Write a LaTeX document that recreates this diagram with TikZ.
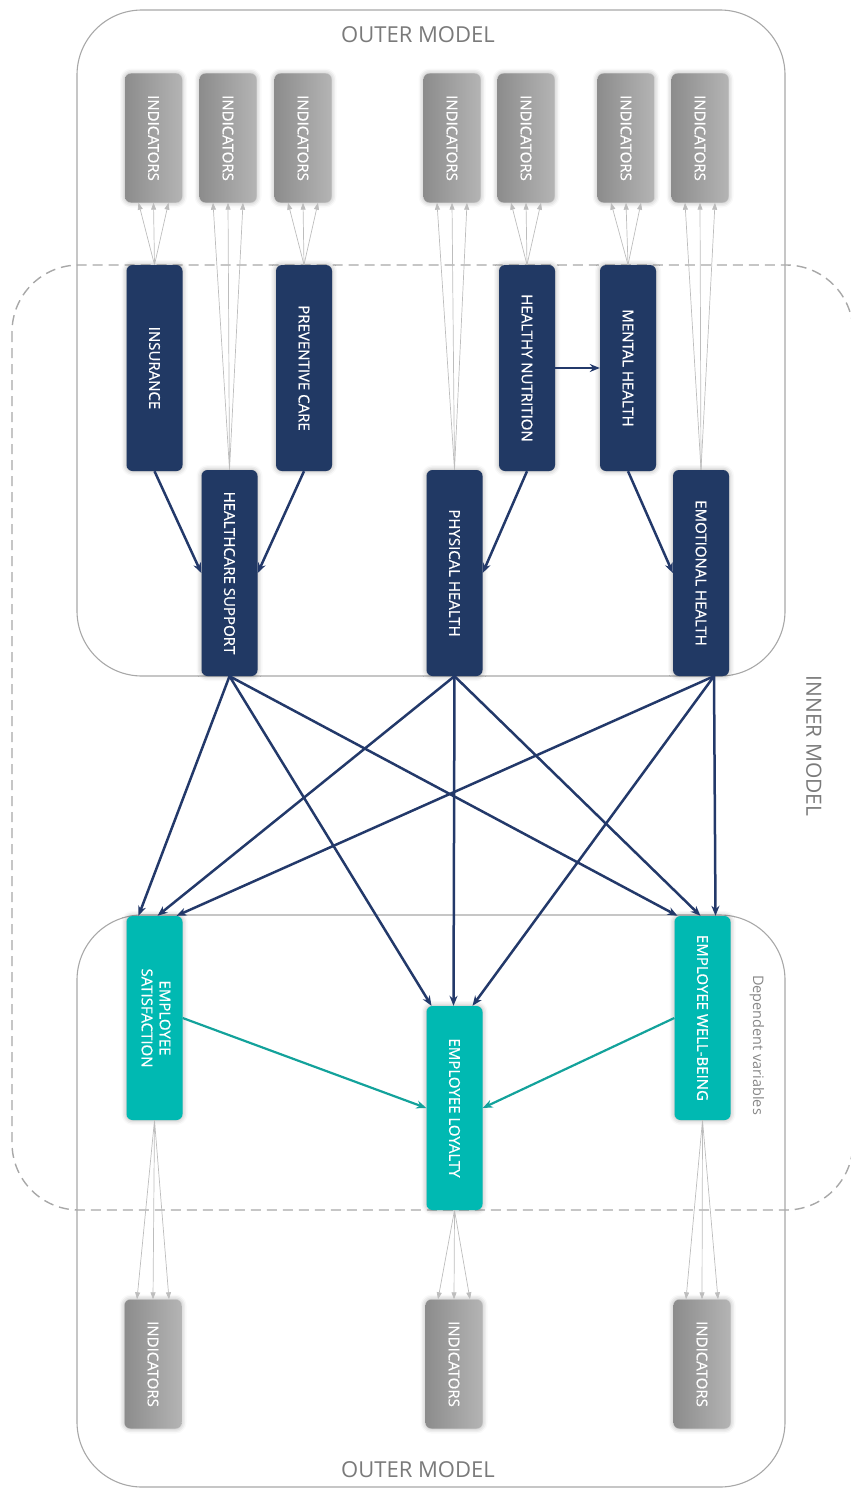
\documentclass[tikz,border=0pt]{standalone}
\usepackage{fontspec}
\setmainfont{Open Sans}
\newfontfamily\boxfont{Open Sans}[FakeBold=0.7]
\usetikzlibrary{arrows.meta,shadows.blur}
\definecolor{navy}{HTML}{213964}
\definecolor{navyline}{HTML}{23396A}
\definecolor{tealbox}{HTML}{00B9B2}
\definecolor{tealline}{HTML}{13A29B}
\definecolor{indL}{HTML}{8C8C8C}
\definecolor{indR}{HTML}{B4B4B4}
\definecolor{frame}{HTML}{A8A8A8}
\definecolor{thin}{HTML}{BDBDBD}
\definecolor{labelgray}{HTML}{7A7A7A}
\begin{document}
\begin{tikzpicture}[x=1pt,y=-1pt,
  glow/.style={blur shadow={shadow xshift=0pt,shadow yshift=0pt,shadow blur radius=5pt,shadow opacity=35}},
  latent/.style={glow,fill=navy,rounded corners=6pt,minimum width=56pt,minimum height=206pt,
    inner sep=0pt,text=white,font=\boxfont\fontsize{15}{19}\selectfont},
  outcome/.style={latent,fill=tealbox,minimum height=204pt},
  indicator/.style={glow,left color=indL,right color=indR,rounded corners=6pt,minimum width=57pt,
    minimum height=129pt,inner sep=0pt,text=white,font=\boxfont\fontsize{15}{19}\selectfont},
  outerbox/.style={draw=frame,line width=1.1pt,rounded corners=65pt},
  innerbox/.style={draw=frame,line width=1.4pt,dash pattern=on 10pt off 6pt,rounded corners=67pt},
  title/.style={text=labelgray,inner sep=0pt,font=\fontsize{22}{26}\selectfont},
  indarrow/.style={draw=thin,line width=0.7pt,-{Triangle[length=7pt,width=5pt]}},
  path/.style={draw=navyline,line width=2.5pt,-{Stealth[length=10pt,width=8pt]}},
  tealpath/.style={draw=tealline,line width=2.2pt,-{Stealth[length=10pt,width=8pt]}}]
\useasboundingbox (0,0) rectangle (851,1488);

% model frames
\draw[outerbox] (77,10) rectangle (785,676);
\draw[outerbox] (77,915) rectangle (785,1487);
\draw[innerbox] (12,265) rectangle (853,1210);

% frame labels
\node[title] (outerTop) at (418,35) {OUTER MODEL};
\node[title] (outerBot) at (418,1470) {OUTER MODEL};
\node[title,rotate=-90,font=\fontsize{21}{25}\selectfont] (innerLbl) at (814,746) {INNER MODEL};
\node[title,rotate=-90,text=labelgray!90,font=\fontsize{14.5}{18}\selectfont] (depLbl) at (757,1045) {Dependent variables};

% indicator blocks
\foreach \n/\x in {i1/153.5,i2/228,i3/303,i4/452,i5/526,i6/626,i7/700}
  \node[indicator] (\n) at (\x,138) {\rotatebox{-90}{INDICATORS}};
\foreach \n/\x in {j1/153,j2/454,j3/702}
  \node[indicator] (\n) at (\x,1364) {\rotatebox{-90}{INDICATORS}};

% latent constructs
\node[latent] (ins)  at (154.5,368) {\rotatebox{-90}{INSURANCE}};
\node[latent] (prev) at (304,368)   {\rotatebox{-90}{PREVENTIVE CARE}};
\node[latent] (nut)  at (527,368)   {\rotatebox{-90}{HEALTHY NUTRITION}};
\node[latent] (men)  at (628,368)   {\rotatebox{-90}{MENTAL HEALTH}};
\node[latent] (hc)   at (229.5,573) {\rotatebox{-90}{HEALTHCARE SUPPORT}};
\node[latent] (phy)  at (454.5,573) {\rotatebox{-90}{PHYSICAL HEALTH}};
\node[latent] (emo)  at (701,573)   {\rotatebox{-90}{EMOTIONAL HEALTH}};

% dependent variables
\node[outcome] (sat) at (154.5,1018) {\rotatebox{-90}{\begin{tabular}{@{}c@{}}EMPLOYEE\\[-1pt]SATISFACTION\end{tabular}}};
\node[outcome] (loy) at (454.5,1108) {\rotatebox{-90}{EMPLOYEE LOYALTY}};
\node[outcome] (wb)  at (702.5,1018) {\rotatebox{-90}{EMPLOYEE WELL-BEING}};

% measurement links
\foreach \l/\i in {ins/i1,hc/i2,prev/i3,phy/i4,nut/i5,men/i6,emo/i7}
  \foreach \d in {-15,0,15}
    \draw[indarrow] (\l.north) -- ([xshift=\d pt]\i.south);
\foreach \l/\i in {sat/j1,loy/j2,wb/j3}
  \foreach \d in {-16,0,16}
    \draw[indarrow] (\l.south) -- ([xshift=\d pt]\i.north);

% structural paths
\draw[path] (ins.south) -- (hc.west);
\draw[path] (prev.south) -- (hc.east);
\draw[path] (nut.south) -- (phy.east);
\draw[path] (men.south) -- (emo.west);
\draw[path] (nut.east) -- (men.west);

\coordinate (emoOut) at ([xshift=13pt]emo.south);
\draw[path] (hc.south) -- ([xshift=-16pt]sat.north);
\draw[path] (phy.south) -- ([xshift=3pt]sat.north);
\draw[path] (emoOut) -- ([xshift=22pt]sat.north);
\draw[path] (hc.south) -- ([xshift=-23pt]loy.north);
\draw[path] (phy.south) -- ([xshift=-1pt]loy.north);
\draw[path] (emoOut) -- ([xshift=18pt]loy.north);
\draw[path] (hc.south) -- ([xshift=-25pt]wb.north);
\draw[path] (phy.south) -- ([xshift=-2pt]wb.north);
\draw[path] (emoOut) -- ([xshift=13pt]wb.north);

\draw[tealpath] (sat.east) -- (loy.west);
\draw[tealpath] (wb.west) -- (loy.east);
\end{tikzpicture}
\end{document}
